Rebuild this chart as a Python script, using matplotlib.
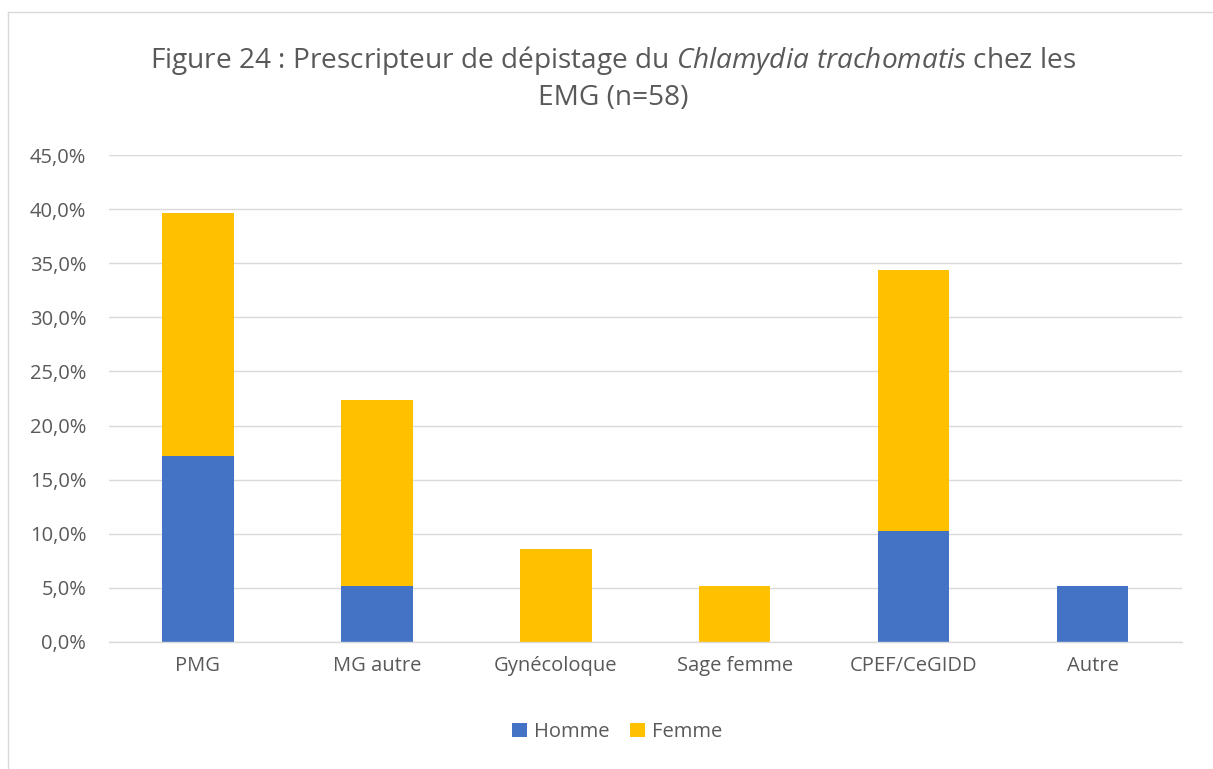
import numpy as np
import matplotlib.pyplot as plt
from matplotlib.lines import Line2D

plt.rcParams['font.family'] = ['Open Sans', 'DejaVu Sans']
plt.rcParams['mathtext.fontset'] = 'custom'
plt.rcParams['mathtext.rm'] = 'Open Sans'
plt.rcParams['mathtext.it'] = 'Open Sans:italic'

categories = ['PMG', 'MG autre', 'Gynécoloque', 'Sage femme', 'CPEF/CeGIDD', 'Autre']
homme = [17.2, 5.2, 0.0, 0.0, 10.3, 5.2]
femme = [22.4, 17.2, 8.6, 5.2, 24.1, 0.0]
yticks = [0, 5, 10, 15, 20, 25, 30, 35, 40, 45]

c_homme = '#4472C4'
c_femme = '#FFC000'
txt = '#595959'

W, H = 1213, 769
fig = plt.figure(figsize=(W / 100, H / 100), dpi=100)
ax = fig.add_axes([108.5 / W, 1 - 642 / H, (1182 - 108.5) / W, (642 - 155) / H])

x = np.arange(len(categories))
ax.bar(x, homme, width=0.4, color=c_homme, label='Homme', zorder=3)
ax.bar(x, femme, width=0.4, bottom=homme, color=c_femme, label='Femme', zorder=3)

ax.set_xlim(-0.5, len(categories) - 0.5)
ax.set_ylim(0, 45)
ax.set_yticks(yticks)
ax.set_yticklabels([f'{v:.1f}%'.replace('.', ',') for v in yticks])
ax.set_xticks(x)
ax.set_xticklabels(categories)
ax.yaxis.grid(True, color='#D9D9D9', linewidth=1, zorder=0)
ax.tick_params(axis='both', length=0, labelsize=14.5, colors=txt)
ax.tick_params(axis='y', pad=16)
ax.tick_params(axis='x', pad=10)
for s in ['top', 'right', 'left']:
    ax.spines[s].set_visible(False)
ax.spines['bottom'].set_color('#D9D9D9')
ax.spines['bottom'].set_linewidth(1)
ax.spines['bottom'].set_zorder(4)

fig.text(613 / W, 1 - 78 / H,
         'Figure 24 : Prescripteur de dépistage du $Chlamydia\\ trachomatis$ chez les\nEMG (n=58)',
         ha='center', va='center', fontsize=20.2, color=txt, linespacing=1.35)

fig.legend(*ax.get_legend_handles_labels(), loc='center',
           bbox_to_anchor=(617 / W, 1 - 732 / H),
           ncol=2, frameon=False, fontsize=14.5, labelcolor=txt,
           handlelength=0.75, handleheight=0.75, handletextpad=0.35, columnspacing=1.0)

fig.add_artist(Line2D([8 / W, 8 / W], [0, 1 - 12 / H], color='#D9D9D9', linewidth=1))
fig.add_artist(Line2D([8 / W, 1], [1 - 12 / H, 1 - 12 / H], color='#D9D9D9', linewidth=1))

fig.savefig('out.png', dpi=100)
